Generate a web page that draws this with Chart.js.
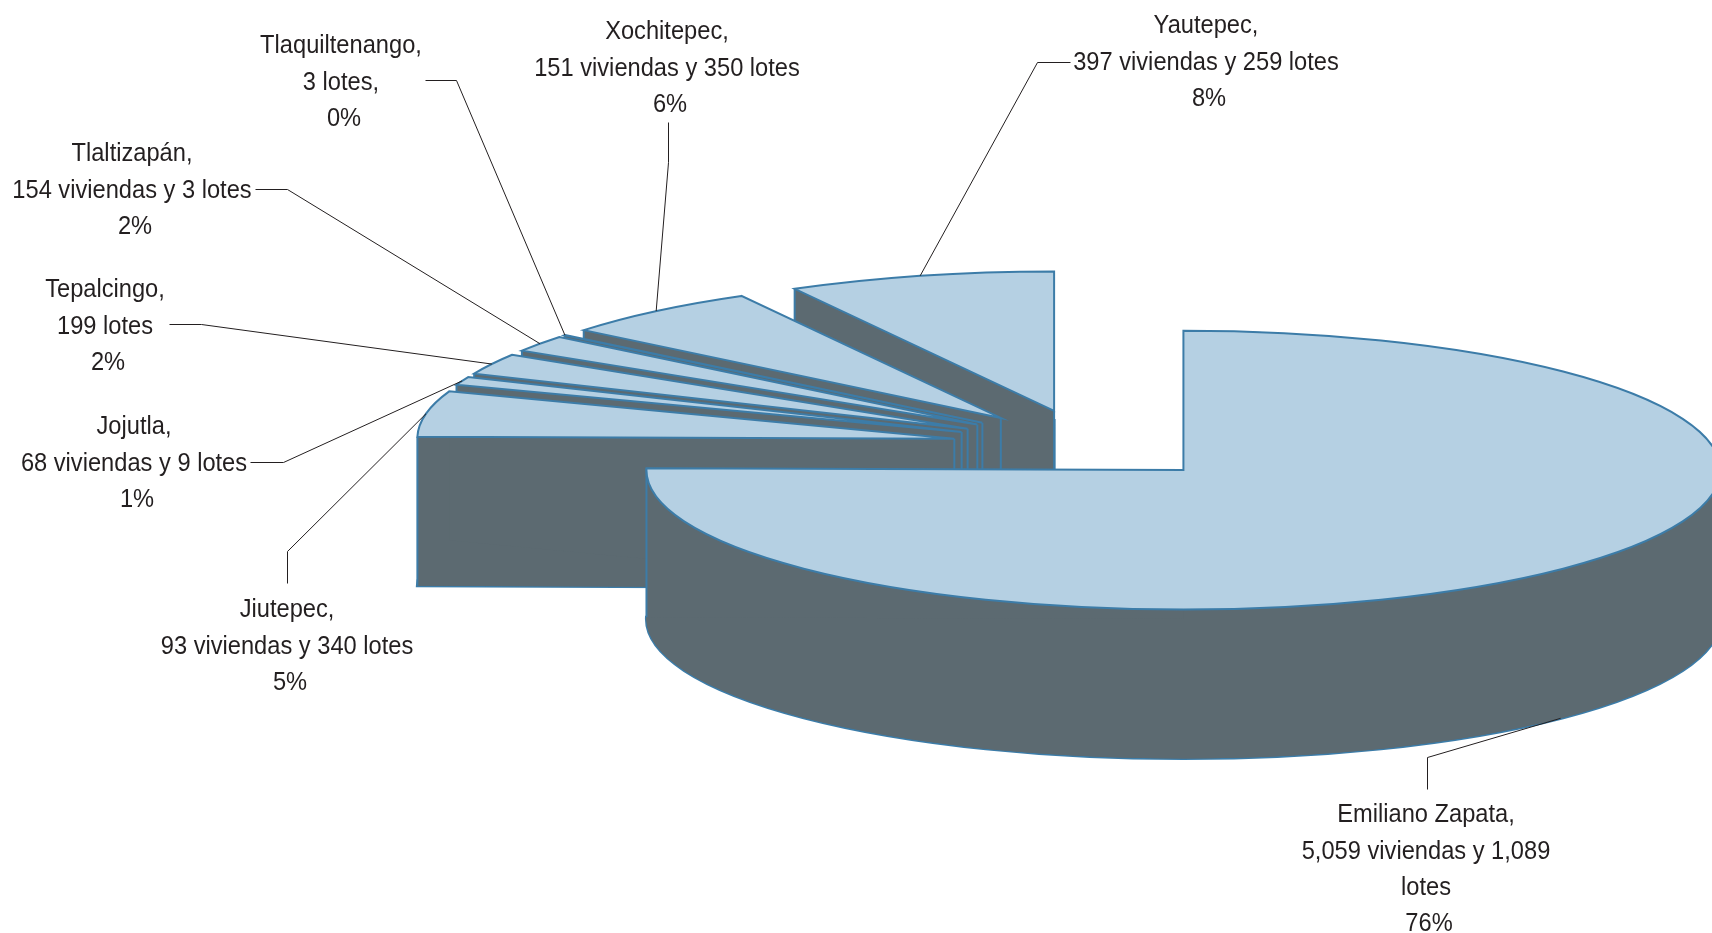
<!DOCTYPE html>
<html>
<head>
<meta charset="utf-8">
<title>Viviendas y lotes por municipio</title>
<script src="https://cdn.jsdelivr.net/npm/chart.js@4"></script>
<style>
body{margin:0;background:#fff}
canvas{display:block}
</style>
</head>
<body>
<canvas id="pie" width="1712" height="933"></canvas>
<script>
const municipios = ["Emiliano Zapata","Jiutepec","Jojutla","Tepalcingo","Tlaltizapán","Tlaquiltenango","Xochitepec","Yautepec"];
const viviendas = [5059,93,68,0,154,0,151,397];
const lotes = [1089,340,9,199,3,3,350,259];
const porcentajes = ["76%","5%","1%","2%","2%","0%","6%","8%"];
const detalles = [
    ["5,059 viviendas y 1,089","lotes"],
    ["93 viviendas y 340 lotes"],
    ["68 viviendas y 9 lotes"],
    ["199 lotes"],
    ["154 viviendas y 3 lotes"],
    ["3 lotes,"],
    ["151 viviendas y 350 lotes"],
    ["397 viviendas y 259 lotes"]
];

// where the labels sit: text centre x, first line y
const labelPos = [[1426,815],[287,610],[134,427],[105,290],[132,154],[341,46],[667,32],[1206,26]];
// leader line from the label up to the elbow, the rim end comes from the slice
const leaderPos = [
    [[1427,789],[1427,757]],
    [[287,583],[287,551]],
    [[250,462],[283,462]],
    [[169,324],[201,324]],
    [[255,189],[287,189]],
    [[425,80],[456,80]],
    [[668,122],[668,162]],
    [[1070,62],[1037,62]]
];

const TILT = 0.2596;      // height/width of the tilted disc
const DEPTH = 149;        // height of the extruded side
const EXPLODE = 0.253;    // slice explosion, part of the radius
const RADIUS = 537;
const LINE_H = 36.4;
const PERCENT_NUDGE = 3;   // the % line sits a little right of the others
const TEXT_SQUEEZE = 0.91; // no Arial Narrow here, so squeeze Liberation Sans

const TOP_COLOR = "#b5d0e3";
const SIDE_COLOR = "#5c6a71";
const EDGE_COLOR = "#3c7ca8";
const TEXT_COLOR = "#231f20";
const FONT = '26px "Liberation Sans", sans-serif';

function sliceGeom(arc){
    const mid = (arc.startAngle + arc.endAngle) / 2;
    const d = arc.outerRadius * EXPLODE;
    return {
        x: arc.x + Math.cos(mid) * d,
        y: arc.y + Math.sin(mid) * d * TILT,
        r: arc.outerRadius,
        a0: arc.startAngle,
        a1: arc.endAngle,
        mid: mid
    };
}

function slicePath(ctx, g, dy){
    ctx.beginPath();
    ctx.moveTo(g.x, g.y + dy);
    ctx.ellipse(g.x, g.y + dy, g.r, g.r * TILT, 0, g.a0, g.a1);
    ctx.closePath();
}

function rimPoint(g, a){
    return [g.x + Math.cos(a) * g.r, g.y + Math.sin(a) * g.r * TILT];
}

// the outer wall, cut at the far left and right so no piece folds over itself
function fillWall(ctx, g){
    const cuts = [g.a0];
    [0, Math.PI].forEach(c => { if(c > g.a0 && c < g.a1) cuts.push(c); });
    cuts.push(g.a1);
    for(let i = 0; i < cuts.length - 1; i++){
        ctx.beginPath();
        ctx.ellipse(g.x, g.y, g.r, g.r * TILT, 0, cuts[i], cuts[i + 1]);
        ctx.ellipse(g.x, g.y + DEPTH, g.r, g.r * TILT, 0, cuts[i + 1], cuts[i], true);
        ctx.closePath();
        ctx.fill();
    }
}

function fillCutFace(ctx, g, a){
    const p = rimPoint(g, a);
    ctx.beginPath();
    ctx.moveTo(g.x, g.y);
    ctx.lineTo(p[0], p[1]);
    ctx.lineTo(p[0], p[1] + DEPTH);
    ctx.lineTo(g.x, g.y + DEPTH);
    ctx.closePath();
    ctx.fill();
}

function vertical(ctx, p){
    ctx.beginPath();
    ctx.moveTo(p[0], p[1]);
    ctx.lineTo(p[0], p[1] + DEPTH);
    ctx.stroke();
}

const pie3d = {
    id: "pie3d",
    beforeDatasetsDraw(chart){
        const ctx = chart.ctx;
        const arcs = chart.getDatasetMeta(0).data;
        ctx.save();
        ctx.lineJoin = "miter";
        // back slices first, Emiliano Zapata goes on top of everything
        for(let i = arcs.length - 1; i >= 0; i--){
            const g = sliceGeom(arcs[i]);

            ctx.strokeStyle = EDGE_COLOR;
            ctx.lineWidth = 3;
            slicePath(ctx, g, DEPTH);
            ctx.stroke();

            ctx.fillStyle = SIDE_COLOR;
            slicePath(ctx, g, DEPTH);
            ctx.fill();
            fillWall(ctx, g);
            fillCutFace(ctx, g, g.a0);
            fillCutFace(ctx, g, g.a1);

            ctx.lineWidth = 2;
            const p0 = rimPoint(g, g.a0);
            const p1 = rimPoint(g, g.a1);
            vertical(ctx, p0[0] < p1[0] ? p0 : p1);
            if(g.a1 - g.a0 < Math.PI) vertical(ctx, [g.x, g.y]);

            ctx.fillStyle = TOP_COLOR;
            slicePath(ctx, g, 0);
            ctx.fill();
            ctx.stroke();
        }
        ctx.restore();
        return false;
    },
    afterDraw(chart){
        const ctx = chart.ctx;
        const arcs = chart.getDatasetMeta(0).data;
        ctx.save();
        ctx.strokeStyle = TEXT_COLOR;
        ctx.lineWidth = 1;
        arcs.forEach((arc, i) => {
            const g = sliceGeom(arc);
            const rim = rimPoint(g, g.mid);
            if(Math.sin(g.mid) > 0) rim[1] += DEPTH;
            ctx.beginPath();
            ctx.moveTo(leaderPos[i][0][0] + 0.5, leaderPos[i][0][1] + 0.5);
            ctx.lineTo(leaderPos[i][1][0] + 0.5, leaderPos[i][1][1] + 0.5);
            ctx.lineTo(rim[0], rim[1]);
            ctx.stroke();
        });

        ctx.fillStyle = TEXT_COLOR;
        ctx.font = FONT;
        ctx.textAlign = "center";
        ctx.textBaseline = "middle";
        municipios.forEach((name, i) => {
            const lines = [name + ","].concat(detalles[i], porcentajes[i]);
            lines.forEach((t, n) => {
                const nudge = n === lines.length - 1 ? PERCENT_NUDGE : 0;
                ctx.save();
                ctx.translate(labelPos[i][0] + nudge, labelPos[i][1] + n * LINE_H);
                ctx.scale(TEXT_SQUEEZE, 1);
                ctx.fillText(t, 0, 0);
                ctx.restore();
            });
        });
        ctx.restore();
    }
};

new Chart(document.getElementById("pie"), {
    type: "pie",
    data: {
        labels: municipios,
        datasets: [{
            data: viviendas.map((v, i) => v + lotes[i]),
            radius: RADIUS,
            backgroundColor: TOP_COLOR,
            borderColor: EDGE_COLOR
        }]
    },
    options: {
        responsive: false,
        animation: false,
        layout: {padding: {left: 464, right: 0, top: 0, bottom: 43}},
        plugins: {legend: {display: false}, tooltip: {enabled: false}}
    },
    plugins: [pie3d]
});
</script>
</body>
</html>
